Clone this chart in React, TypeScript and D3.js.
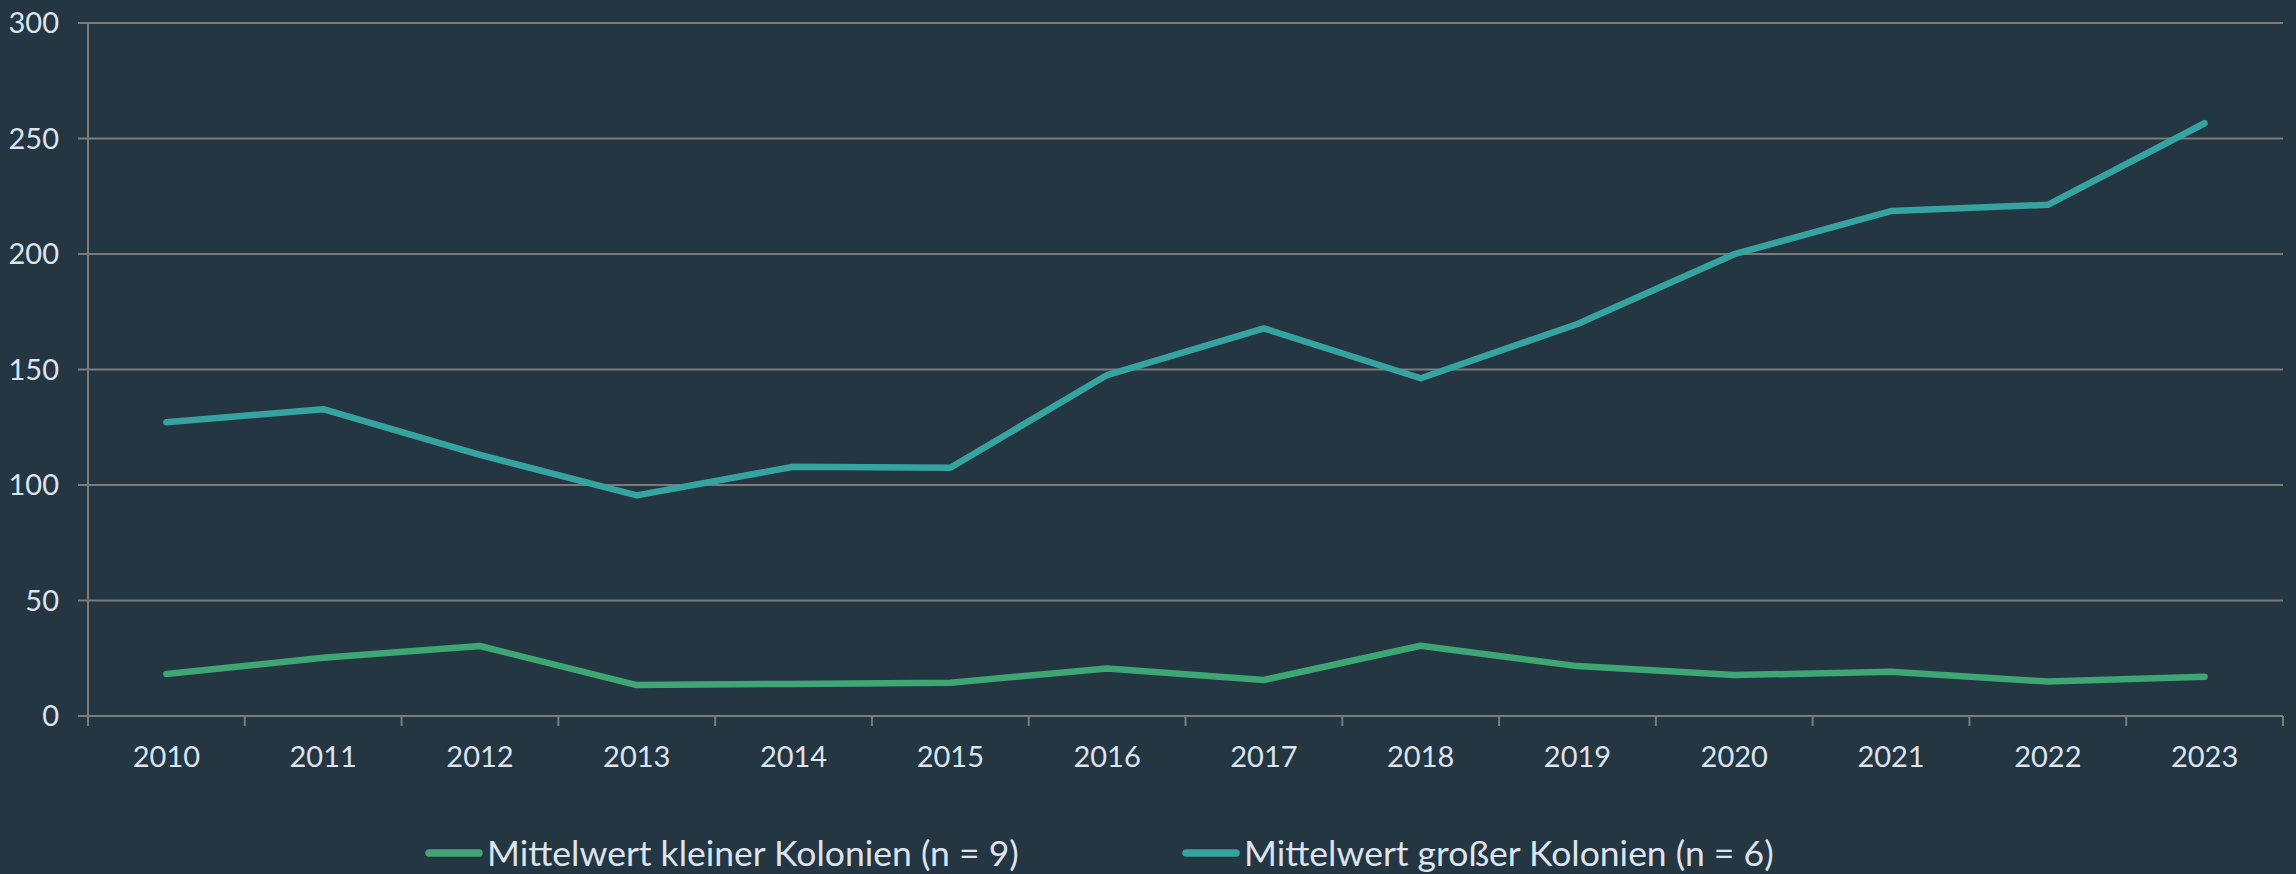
import React from "react";
import * as d3 from "d3";

const years = ["2010","2011","2012","2013","2014","2015","2016","2017","2018","2019","2020","2021","2022","2023"];
const smallColonies = [18.2, 25.2, 30.3, 13.4, 13.9, 14.4, 20.6, 15.6, 30.4, 21.6, 17.7, 19.2, 14.9, 17.0];
const largeColonies = [127.2, 132.8, 113.0, 95.5, 107.9, 107.5, 147.6, 167.8, 146.2, 169.7, 199.9, 218.6, 221.3, 256.6];
const yTicks = [0, 50, 100, 150, 200, 250, 300];
const seriesNames = ["Mittelwert kleiner Kolonien (n = 9)", "Mittelwert großer Kolonien (n = 6)"];
const seriesColors = ["#3ea574", "#35a39f"];

const W = 2296, H = 874;
const left = 88, right = 2283, top = 23, bottom = 716;
const BG = "#243642";
const GRID = "#7b7b7b";
const TEXT = "#dde3ef";
const FONT = "Lato, 'Open Sans', sans-serif";

export default function App() {
  const x = d3.scaleBand<string>().domain(years).range([left, right]).padding(0);
  const y = d3.scaleLinear().domain([0, 300]).range([bottom, top]);
  const cx = (yr: string) => (x(yr) as number) + x.bandwidth() / 2;
  const line = d3.line<number>().x((_, i) => cx(years[i])).y(d => y(d));
  const series = [smallColonies, largeColonies];
  const boundaries = d3.range(years.length + 1).map(i => left + i * x.bandwidth());
  const legendX = [425, 1182];

  return (
    <svg width={W} height={H} style={{ position: "absolute", left: 0, top: 0, display: "block" }}>
      <rect x={0} y={0} width={W} height={H} fill={BG} />
      {yTicks.map(t => (
        <g key={t}>
          <line x1={left - 10} x2={right} y1={y(t)} y2={y(t)} stroke={GRID} strokeWidth={2} />
          <text x={59} y={y(t)} dy="0.35em" textAnchor="end" fill={TEXT} fontFamily={FONT} fontSize={29}>{t}</text>
        </g>
      ))}
      <line x1={left} x2={left} y1={top} y2={bottom + 10} stroke={GRID} strokeWidth={2} />
      {boundaries.slice(1).map((bx, i) => (
        <line key={i} x1={bx} x2={bx} y1={bottom} y2={bottom + 10} stroke={GRID} strokeWidth={2} />
      ))}
      {years.map(yr => (
        <text key={yr} x={cx(yr)} y={767} textAnchor="middle" fill={TEXT} fontFamily={FONT} fontSize={29}>{yr}</text>
      ))}
      {series.map((s, i) => (
        <path key={i} d={line(s) as string} fill="none" stroke={seriesColors[i]} strokeWidth={6.5} strokeLinecap="round" strokeLinejoin="round" />
      ))}
      {seriesNames.map((name, i) => (
        <g key={name}>
          <line x1={legendX[i] + 4} x2={legendX[i] + 54} y1={853} y2={853} stroke={seriesColors[i]} strokeWidth={7.5} strokeLinecap="round" />
          <text x={legendX[i] + 62} y={866} fill={TEXT} fontFamily={FONT} fontSize={35.5}>{name}</text>
        </g>
      ))}
    </svg>
  );
}
